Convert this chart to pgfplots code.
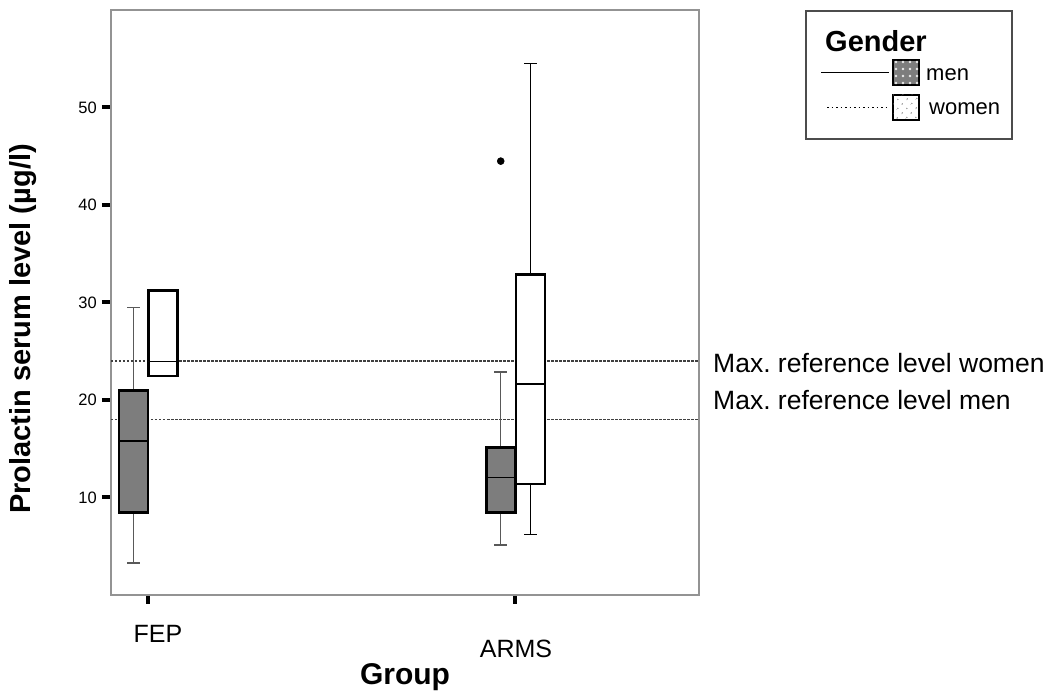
\documentclass[border=0pt]{standalone}
\usepackage{pgfplots}
\pgfplotsset{compat=1.18}
\usepgfplotslibrary{statistics}
\usetikzlibrary{patterns.meta}
\usepackage{fontspec}
\setmainfont{Liberation Sans}
\frenchspacing
\definecolor{mengray}{RGB}{125,125,125}
\tikzset{
  menfill/.style={fill=mengray, postaction={pattern={Dots[distance=7pt,radius=1.4pt]}, pattern color=white!85!gray}},
  womenfill/.style={fill=white, postaction={pattern={Dots[distance=6.5pt,radius=0.8pt,angle=45]}, pattern color=gray!75!black}},
}
\begin{document}
\begin{tikzpicture}
\begin{axis}[
  at={(0pt,0pt)}, anchor=south west,
  scale only axis, width=588pt, height=585pt,
  xmin=0.9, xmax=2.5, ymin=0, ymax=60,
  xtick={1,2}, xticklabels={,,},
  ytick={10,20,30,40,50},
  tick pos=left, tick align=outside, major tick length=9pt,
  every tick/.style={black, line width=4pt},
  every major tick/.style={black, line width=4pt},
  axis line style={draw=gray!85, line width=1.4pt},
  yticklabel style={font=\fontsize{16.5}{19}\selectfont, inner sep=5pt},
  /pgf/number format/assume math mode=true,
  clip=false,
  boxplot/draw direction=y,
]
% reference lines
\addplot[gray!50!black, line width=1.3pt, dash pattern=on 2.5pt off 1.5pt] coordinates {(0.9,24) (2.5,24)};
\addplot[gray!50!black, line width=1.3pt, dash pattern=on 2.5pt off 1.5pt] coordinates {(0.9,18) (2.5,18)};
% FEP men
\addplot[boxplot prepared={draw position=0.961, lower whisker=3.3, lower quartile=8.46, median=15.8, upper quartile=21.0, upper whisker=29.5, box extend=0.079, whisker extend=0.034},
  draw=black, line width=2.6pt, menfill,
  boxplot/every whisker/.style={draw=gray!70!black, line width=1.5pt},
  boxplot/every median/.style={draw=black, line width=1.8pt}] coordinates {};
% FEP women
\addplot[boxplot prepared={draw position=1.042, lower whisker=22.45, lower quartile=22.45, median=23.95, upper quartile=31.2, upper whisker=31.2, box extend=0.079, whisker extend=0.034},
  draw=black, line width=2.6pt, womenfill,
  boxplot/every whisker/.style={draw=black, line width=1.5pt},
  boxplot/every median/.style={draw=black, line width=1.8pt}] coordinates {};
% ARMS men
\addplot[boxplot prepared={draw position=1.9605, lower whisker=5.14, lower quartile=8.46, median=12.05, upper quartile=15.1, upper whisker=22.85, box extend=0.079, whisker extend=0.034},
  draw=black, line width=2.6pt, menfill, mark=*, mark size=3.5pt,
  mark options={fill=black, draw=black, line width=0.5pt},
  boxplot/every whisker/.style={draw=gray!70!black, line width=1.5pt},
  boxplot/every median/.style={draw=black, line width=1.8pt}] table[row sep=\\, y index=0] {44.5\\};
% ARMS women
\addplot[boxplot prepared={draw position=2.0418, lower whisker=6.2, lower quartile=11.4, median=21.6, upper quartile=32.9, upper whisker=54.5, box extend=0.079, whisker extend=0.034},
  draw=black, line width=2.6pt, womenfill,
  boxplot/every whisker/.style={draw=black, line width=1.5pt},
  boxplot/every median/.style={draw=black, line width=1.8pt}] coordinates {};
\end{axis}
% category labels and axis titles
\node[font=\fontsize{25}{30}\selectfont] at (47pt,-39pt) {FEP};
\node[font=\fontsize{25}{30}\selectfont] at (405pt,-54pt) {ARMS};
\node[font=\bfseries\fontsize{30}{35}\selectfont] at (294pt,-82pt) {Group};
\node[font=\bfseries\fontsize{29}{34}\selectfont, rotate=90] at (-88pt,266pt) {Prolactin serum level (µg/l)};
\node[font=\fontsize{26.5}{30}\selectfont, anchor=base west, inner sep=0pt] at (602pt,222pt) {Max. reference level women};
\node[font=\fontsize{26.5}{30}\selectfont, anchor=base west, inner sep=0pt] at (602pt,185pt) {Max. reference level men};
% legend
\draw[gray!60!black, line width=1.6pt] (695pt,456pt) rectangle (901pt,584pt);
\node[font=\bfseries\fontsize{29}{34}\selectfont, anchor=base west, inner sep=0pt] at (714pt,543pt) {Gender};
\draw[black, line width=0.9pt] (710pt,522.7pt) -- (778pt,522.7pt);
\draw[black, line width=2.2pt, menfill] (782pt,510pt) rectangle (808pt,535pt);
\node[font=\fontsize{22}{26}\selectfont, anchor=base west, inner sep=0pt] at (815pt,514pt) {men};
\draw[black, line width=0.9pt, dash pattern=on 1.5pt off 3pt] (716pt,487.3pt) -- (778pt,487.3pt);
\draw[black, line width=2.2pt, womenfill] (782pt,475pt) rectangle (808pt,500pt);
\node[font=\fontsize{22}{26}\selectfont, anchor=base west, inner sep=0pt] at (818pt,480pt) {women};
\pgfresetboundingbox
\path (-111pt,-97pt) rectangle (939pt,595pt);
\end{tikzpicture}
\end{document}
